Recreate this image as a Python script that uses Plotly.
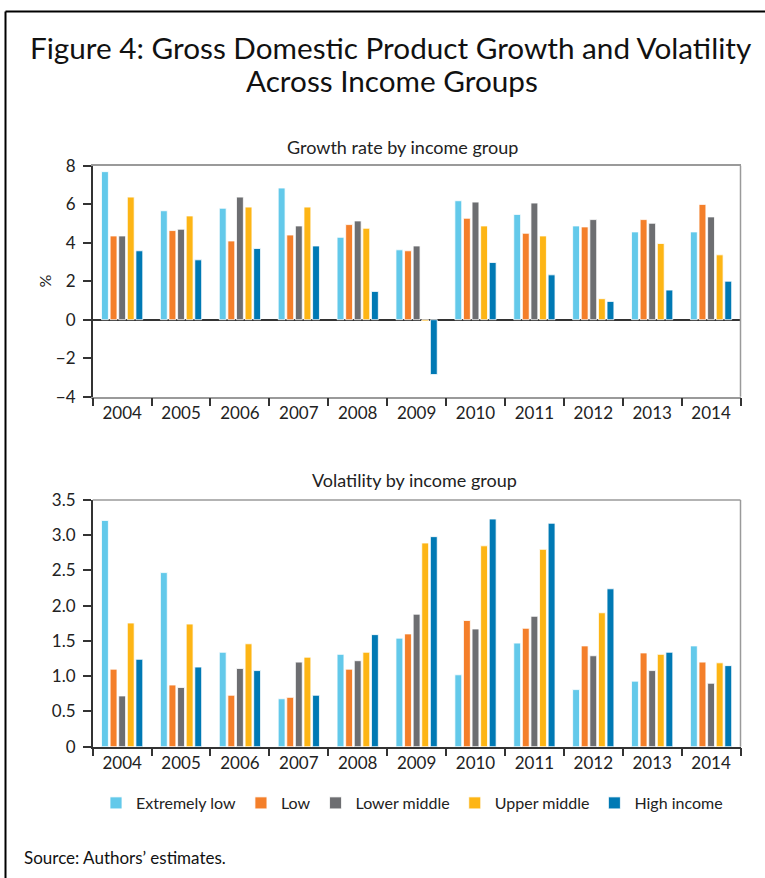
import plotly.graph_objects as go

years = ["2004", "2005", "2006", "2007", "2008", "2009", "2010", "2011", "2012", "2013", "2014"]
groups = ["Extremely low", "Low", "Lower middle", "Upper middle", "High income"]
colors = ["#63C9EA", "#F47F2A", "#6D6E71", "#FDB515", "#0079B4"]

growth_extremely_low = [7.69, 5.66, 5.79, 6.84, 4.28, 3.63, 6.18, 5.47, 4.87, 4.56, 4.56]
growth_low = [4.35, 4.63, 4.09, 4.40, 4.94, 3.58, 5.27, 4.49, 4.82, 5.20, 5.99]
growth_lower_middle = [4.35, 4.70, 6.37, 4.87, 5.13, 3.83, 6.11, 6.06, 5.20, 5.01, 5.34]
growth_upper_middle = [6.37, 5.39, 5.85, 5.85, 4.75, -0.07, 4.87, 4.35, 1.09, 3.96, 3.37]
growth_high = [3.58, 3.11, 3.70, 3.83, 1.47, -2.85, 2.97, 2.33, 0.95, 1.54, 2.00]

vol_extremely_low = [3.21, 2.47, 1.34, 0.68, 1.31, 1.54, 1.02, 1.47, 0.81, 0.93, 1.43]
vol_low = [1.10, 0.875, 0.73, 0.70, 1.10, 1.60, 1.79, 1.68, 1.43, 1.33, 1.20]
vol_lower_middle = [0.72, 0.84, 1.11, 1.20, 1.22, 1.88, 1.67, 1.85, 1.29, 1.08, 0.90]
vol_upper_middle = [1.755, 1.74, 1.46, 1.27, 1.34, 2.89, 2.85, 2.80, 1.90, 1.31, 1.19]
vol_high = [1.24, 1.13, 1.08, 0.73, 1.59, 2.98, 3.23, 3.17, 2.24, 1.34, 1.15]

growth_ticks = [-4, -2, 0, 2, 4, 6, 8]
vol_ticks = [0, 0.5, 1.0, 1.5, 2.0, 2.5, 3.0, 3.5]
vol_tick_text = ["0", "0.5", "1.0", "1.5", "2.0", "2.5", "3.0", "3.5"]

growth_series = [growth_extremely_low, growth_low, growth_lower_middle, growth_upper_middle, growth_high]
vol_series = [vol_extremely_low, vol_low, vol_lower_middle, vol_upper_middle, vol_high]

FONT = "Lato"
DARK = "#333333"
GRAY = "#9A9A9A"
W, H = 765, 878

fig = go.Figure()
for name, col, vals in zip(groups, colors, growth_series):
    fig.add_trace(go.Bar(x=years, y=vals, name=name, marker=dict(color=col, line=dict(color="white", width=0.8)),
                         xaxis="x", yaxis="y", showlegend=True))
for name, col, vals in zip(groups, colors, vol_series):
    fig.add_trace(go.Bar(x=years, y=vals, name=name, marker=dict(color=col, line=dict(color="white", width=0.8)),
                         xaxis="x2", yaxis="y2", showlegend=False))

def px_x(x):
    return x / W

def px_y(y):
    return 1 - y / H

x0, x1 = px_x(92.7), px_x(740.5)
top_dom = [px_y(396.7), px_y(165.7)]
bot_dom = [px_y(746.7), px_y(500)]

tickfont = dict(family=FONT, size=17, color="#222")

fig.update_layout(
    template="none",
    width=W, height=H,
    margin=dict(l=0, r=0, t=0, b=0, autoexpand=False),
    paper_bgcolor="white", plot_bgcolor="white",
    barmode="group", bargap=0.27, bargroupgap=0.2,
    font=dict(family=FONT, color="#222"),
    xaxis=dict(domain=[x0, x1], anchor="y", type="category", range=[-0.5, 10.5], automargin=False,
               showline=True, linecolor=GRAY, linewidth=1.5, mirror=True,
               ticks="outside", tickson="boundaries", ticklen=8, tickcolor=DARK, tickwidth=1.5,
               tickfont=tickfont, showgrid=False, zeroline=False),
    yaxis=dict(domain=top_dom, anchor="x", range=[-4, 8], tickvals=growth_ticks, automargin=False,
               showline=True, linecolor=DARK, linewidth=1.5,
               ticks="outside", ticklen=8, tickcolor=DARK, tickwidth=1.5, ticklabelstandoff=4,
               tickfont=tickfont, showgrid=False, zeroline=True, zerolinecolor=DARK, zerolinewidth=1.5,
               title=dict(text="%", font=dict(family=FONT, size=16), standoff=0)),
    xaxis2=dict(domain=[x0, x1], anchor="y2", type="category", range=[-0.5, 10.5], automargin=False,
                showline=True, linecolor=DARK, linewidth=1.5,
                ticks="outside", tickson="boundaries", ticklen=8, tickcolor=DARK, tickwidth=1.5,
                tickfont=tickfont, showgrid=False, zeroline=False),
    yaxis2=dict(domain=bot_dom, anchor="x2", range=[0, 3.5], tickvals=vol_ticks, ticktext=vol_tick_text,
                automargin=False, showline=True, linecolor=DARK, linewidth=1.5,
                ticks="outside", ticklen=8, tickcolor=DARK, tickwidth=1.5, ticklabelstandoff=4,
                tickfont=tickfont, showgrid=False, zeroline=False),
    legend=dict(orientation="h", x=px_x(412), xanchor="center", y=px_y(803), yanchor="middle",
                font=dict(family=FONT, size=16, color="#222"), traceorder="normal",
                itemwidth=30, tracegroupgap=0, bgcolor="rgba(0,0,0,0)"),
    showlegend=True,
)

shapes = [
    dict(type="line", xref="x domain", yref="y domain", x0=1, x1=1, y0=0, y1=1,
         line=dict(color=GRAY, width=1.5)),
    dict(type="line", xref="x2 domain", yref="y2 domain", x0=0, x1=1, y0=1, y1=1,
         line=dict(color=GRAY, width=1.5)),
    dict(type="line", xref="x2 domain", yref="y2 domain", x0=1, x1=1, y0=0, y1=1,
         line=dict(color=GRAY, width=1.5)),
    dict(type="line", xref="paper", yref="paper", x0=px_x(5.5), x1=px_x(5.5), y0=0, y1=px_y(11.5),
         line=dict(color="black", width=2)),
    dict(type="line", xref="paper", yref="paper", x0=px_x(5.5), x1=1, y0=px_y(11.5), y1=px_y(11.5),
         line=dict(color="black", width=2)),
]
fig.update_layout(shapes=shapes)

annotations = [
    dict(text="Figure 4: Gross Domestic Product Growth and Volatility",
         x=px_x(391), y=px_y(47), xref="paper", yref="paper", showarrow=False,
         font=dict(family=FONT, size=29.7, color="#111"), xanchor="center", yanchor="middle"),
    dict(text="Across Income Groups",
         x=px_x(392), y=px_y(81), xref="paper", yref="paper", showarrow=False,
         font=dict(family=FONT, size=29.7, color="#111"), xanchor="center", yanchor="middle"),
    dict(text="Growth rate by income group", x=px_x(402), y=px_y(147), xref="paper", yref="paper",
         showarrow=False, font=dict(family=FONT, size=18, color="#222"), xanchor="center", yanchor="middle"),
    dict(text="Volatility by income group", x=px_x(415), y=px_y(480), xref="paper", yref="paper",
         showarrow=False, font=dict(family=FONT, size=18, color="#222"), xanchor="center", yanchor="middle"),
    dict(text="Source: Authors\u2019 estimates.", x=px_x(22), y=px_y(857), xref="paper", yref="paper",
         showarrow=False, font=dict(family=FONT, size=17, color="#111"), xanchor="left", yanchor="middle"),
]
fig.update_layout(annotations=annotations)

fig.write_html("out.html", config={"displayModeBar": False},
               post_script="document.body.style.margin='0';")
